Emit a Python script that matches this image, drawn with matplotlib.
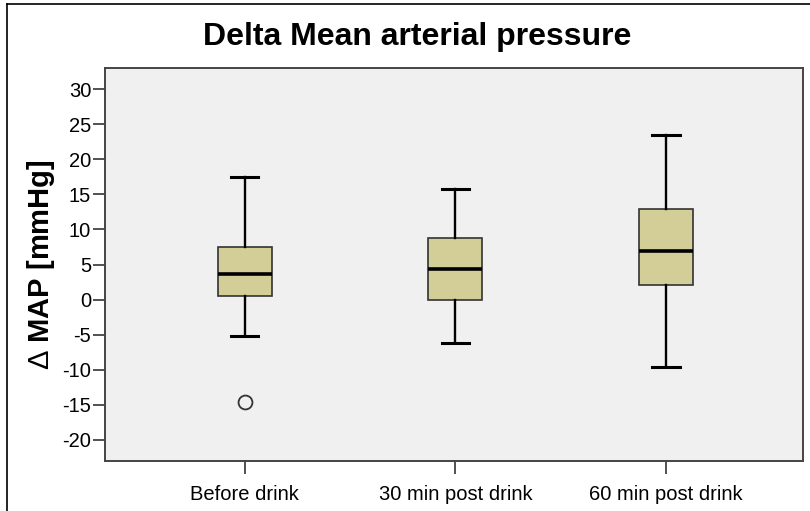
import matplotlib
matplotlib.use("Agg")
import matplotlib.pyplot as plt
from matplotlib.lines import Line2D

plt.rcParams["font.family"] = ["Liberation Sans", "DejaVu Sans"]
plt.rcParams["mathtext.fontset"] = "custom"
plt.rcParams["mathtext.rm"] = "Liberation Sans"

groups = ["Before drink", "30 min post drink", "60 min post drink"]
whis_low = [-5.15, -6.15, -9.55]
q1 = [0.55, -0.05, 2.15]
median = [3.6, 4.3, 6.95]
q3 = [7.45, 8.75, 12.9]
whis_high = [17.45, 15.7, 23.45]
outliers = [[-14.65], [], []]
yticks = list(range(-20, 31, 5))

stats = []
for i in range(len(groups)):
    stats.append({"label": groups[i], "whislo": whis_low[i], "q1": q1[i],
                  "med": median[i], "q3": q3[i], "whishi": whis_high[i],
                  "fliers": outliers[i]})

fig = plt.figure(figsize=(8.1, 5.11), dpi=100)
ax = fig.add_axes([0.1296, 0.0978, 0.8618, 0.7691])
ax.set_facecolor("#F0F0F0")

ax.bxp(stats, positions=[1, 2, 3], widths=0.256, capwidths=0.13,
       patch_artist=True,
       boxprops=dict(facecolor="#D3CE98", edgecolor="#333333", linewidth=1.2),
       medianprops=dict(color="black", linewidth=2.6),
       whiskerprops=dict(color="black", linewidth=1.7),
       capprops=dict(color="black", linewidth=2.2),
       flierprops=dict(marker="o", markerfacecolor="none",
                       markeredgecolor="#333333", markersize=10,
                       markeredgewidth=1.3))

ax.set_xlim(0.337, 3.65)
ax.set_ylim(-23, 33)
ax.set_yticks(yticks)
ax.set_yticklabels([str(t) for t in yticks])
ax.set_xticks([1, 2, 3])
ax.set_xticklabels(groups)
ax.tick_params(axis="both", direction="out", length=9, width=1.2,
               color="#333333", labelsize=14.5)
ax.tick_params(axis="y", pad=1)
ax.tick_params(axis="x", pad=8)
for s in ax.spines.values():
    s.set_color("#444444")
    s.set_linewidth(1.4)

fig.text(417.5 / 810, 1 - 45 / 511, "Delta Mean arterial pressure",
         fontsize=23, fontweight="bold", ha="center", va="baseline")
ax.set_ylabel(r"$\Delta$ MAP [mmHg]", fontsize=21, fontweight="bold",
              labelpad=4)

fig.add_artist(Line2D([7.3 / 810, 1], [1 - 4.5 / 511, 1 - 4.5 / 511],
                      transform=fig.transFigure, color="black", linewidth=1.2))
fig.add_artist(Line2D([7.3 / 810, 7.3 / 810], [0, 1 - 4.5 / 511],
                      transform=fig.transFigure, color="black", linewidth=1.2))

fig.savefig("out.png", dpi=100)
